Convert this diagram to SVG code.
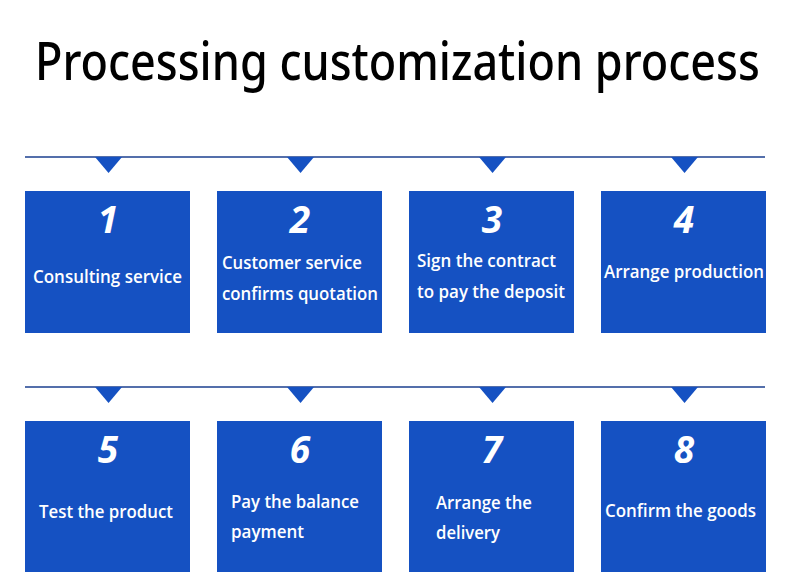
<svg xmlns="http://www.w3.org/2000/svg" width="790" height="588" viewBox="0 0 790 588">
<style>
.bg{fill:#ffffff}
.box{fill:#1551c2}
.tri{fill:#1551c2}
.line{stroke:#1b3f8f;stroke-width:1.5;fill:none}
.num{font-family:"Open Sans","Noto Sans",sans-serif;font-weight:700;font-style:italic;font-size:37px;fill:#ffffff;text-anchor:middle}
.lbl{font-family:"Open Sans","Noto Sans",sans-serif;font-weight:600;font-size:18.5px;fill:#ffffff}
.title{font-family:"Noto Sans","Open Sans",sans-serif;font-weight:500;font-size:52px;fill:#000000}
</style>
<rect class="bg" x="0" y="0" width="790" height="588"/>
<g transform="translate(35,80) scale(0.8,1)">
<text class="title" x="0" y="0" textLength="906" lengthAdjust="spacingAndGlyphs">Processing customization process</text>
</g>
<g id="connectors">
<line class="line" x1="25" y1="157" x2="765" y2="157"/>
<polygon class="tri" points="95,157 122,157 108.5,173"/>
<polygon class="tri" points="287,157 314,157 300.5,173"/>
<polygon class="tri" points="479,157 506,157 492.5,173"/>
<polygon class="tri" points="671,157 698,157 684.5,173"/>
<line class="line" x1="25" y1="387" x2="765" y2="387"/>
<polygon class="tri" points="95,387 122,387 108.5,403"/>
<polygon class="tri" points="287,387 314,387 300.5,403"/>
<polygon class="tri" points="479,387 506,387 492.5,403"/>
<polygon class="tri" points="671,387 698,387 684.5,403"/>
</g>
<g id="step1">
<rect class="box" x="25" y="191" width="165" height="142"/>
<text class="num" x="108" y="233">1</text>
<text class="lbl" x="33" y="283" textLength="149" lengthAdjust="spacingAndGlyphs">Consulting service</text>
</g>
<g id="step2">
<rect class="box" x="217" y="191" width="165" height="142"/>
<text class="num" x="300" y="233">2</text>
<text class="lbl" x="222" y="269" textLength="140" lengthAdjust="spacingAndGlyphs">Customer service</text>
<text class="lbl" x="222" y="300" textLength="156" lengthAdjust="spacingAndGlyphs">confirms quotation</text>
</g>
<g id="step3">
<rect class="box" x="409" y="191" width="165" height="142"/>
<text class="num" x="492" y="233">3</text>
<text class="lbl" x="417" y="267" textLength="139" lengthAdjust="spacingAndGlyphs">Sign the contract</text>
<text class="lbl" x="417" y="298" textLength="148" lengthAdjust="spacingAndGlyphs">to pay the deposit</text>
</g>
<g id="step4">
<rect class="box" x="601" y="191" width="165" height="142"/>
<text class="num" x="684" y="233">4</text>
<text class="lbl" x="604" y="278" textLength="160" lengthAdjust="spacingAndGlyphs">Arrange production</text>
</g>
<g id="step5">
<rect class="box" x="25" y="421" width="165" height="151"/>
<text class="num" x="108" y="463">5</text>
<text class="lbl" x="39" y="518" textLength="134" lengthAdjust="spacingAndGlyphs">Test the product</text>
</g>
<g id="step6">
<rect class="box" x="217" y="421" width="165" height="151"/>
<text class="num" x="300" y="463">6</text>
<text class="lbl" x="231" y="508" textLength="128" lengthAdjust="spacingAndGlyphs">Pay the balance</text>
<text class="lbl" x="231" y="538" textLength="73" lengthAdjust="spacingAndGlyphs">payment</text>
</g>
<g id="step7">
<rect class="box" x="409" y="421" width="165" height="151"/>
<text class="num" x="492" y="463">7</text>
<text class="lbl" x="436" y="509" textLength="96" lengthAdjust="spacingAndGlyphs">Arrange the</text>
<text class="lbl" x="436" y="539" textLength="64" lengthAdjust="spacingAndGlyphs">delivery</text>
</g>
<g id="step8">
<rect class="box" x="601" y="421" width="165" height="151"/>
<text class="num" x="684" y="463">8</text>
<text class="lbl" x="605" y="517" textLength="151" lengthAdjust="spacingAndGlyphs">Confirm the goods</text>
</g>
</svg>
